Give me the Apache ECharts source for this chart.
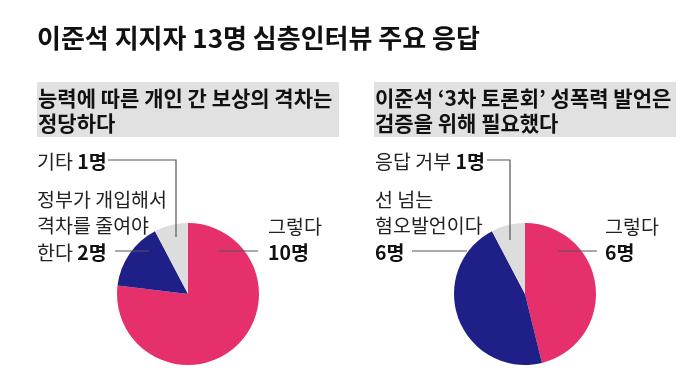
<!DOCTYPE html>
<html>
<head>
<meta charset="utf-8">
<script src="https://cdn.jsdelivr.net/npm/echarts@6/dist/echarts.min.js"></script>
<style>
html,body{margin:0;padding:0;background:#fff;}
#c{width:700px;height:391px;}
</style>
</head>
<body>
<div id="c"></div>
<script>
const title = '이준석 지지자 13명 심층인터뷰 주요 응답';
const question1 = ['능력에 따른 개인 간 보상의 격차는', '정당하다'];
const question2 = ['이준석 ‘3차 토론회’ 성폭력 발언은', '검증을 위해 필요했다'];
const categories1 = ['그렇다', '정부가 개입해서 격차를 줄여야 한다', '기타'];
const values1 = [10, 2, 1];
const categories2 = ['그렇다', '선 넘는 혐오발언이다', '응답 거부'];
const values2 = [6, 6, 1];
const sliceColors = ['#E5306B', '#1E2087', '#DDDDDD'];

const FONT = '"Noto Sans CJK KR", "Noto Sans", sans-serif';
const chart = echarts.init(document.getElementById('c'));

const R = 71;
const C1 = [188, 294];
const C2 = [525, 294];

function pieSeries(cats, vals, center) {
  return {
    type: 'pie',
    center: center,
    radius: R,
    startAngle: 90,
    clockwise: true,
    silent: true,
    animation: false,
    label: { show: false },
    labelLine: { show: false },
    itemStyle: { borderWidth: 0 },
    data: cats.map((c, i) => ({ name: c, value: vals[i], itemStyle: { color: sliceColors[i] } }))
  };
}

const FS = 19.5;
const rich = {
  r: { fontFamily: FONT, fontSize: FS, fontWeight: 400, fill: '#222', color: '#222' },
  b: { fontFamily: FONT, fontSize: FS, fontWeight: 700, fill: '#111', color: '#111' }
};

function txt(x, y, text, align) {
  return {
    type: 'text', z: 100,
    style: { x: x, y: y, text: text, align: align || 'left', verticalAlign: 'middle', rich: rich, font: '400 ' + FS + 'px ' + FONT, fill: '#222' }
  };
}
function line(points) {
  return {
    type: 'polyline', z: 100,
    shape: { points: points },
    style: { stroke: '#555', lineWidth: 1.2, fill: null }
  };
}
function header(x, lines) {
  return [
    { type: 'rect', z: 1, shape: { x: x, y: 82, width: 302, height: 55 }, style: { fill: '#E1E1E1' } },
    { type: 'text', z: 2, style: { x: x + 1, y: 98, text: lines[0], verticalAlign: 'middle', font: '700 21px ' + FONT, fill: '#111' } },
    { type: 'text', z: 2, style: { x: x + 1, y: 123, text: lines[1], verticalAlign: 'middle', font: '700 21px ' + FONT, fill: '#111' } }
  ];
}

const graphics = [
  { type: 'text', style: { x: 37, y: 38, text: title, verticalAlign: 'middle', font: '700 26px ' + FONT, fill: '#111' } },
  ...header(37, question1),
  ...header(374, question2),
  // left pie annotations
  txt(37, 162, '{r|기타 }{b|' + values1[2] + '명}'),
  line([[108, 160], [176, 160], [176, 237]]),
  txt(37, 200, '{r|정부가 개입해서}'),
  txt(37, 226, '{r|격차를 줄여야}'),
  txt(37, 253, '{r|한다 }{b|' + values1[1] + '명}'),
  line([[115, 251], [149, 251]]),
  txt(268, 227, '{r|그렇다}'),
  txt(268, 253, '{b|' + values1[0] + '명}'),
  line([[219, 251], [258, 251]]),
  // right pie annotations
  txt(375, 162, '{r|응답 거부 }{b|' + values2[2] + '명}'),
  line([[487, 160], [510, 160], [510, 240]]),
  txt(375, 200, '{r|선 넘는}'),
  txt(375, 226, '{r|혐오발언이다}'),
  txt(375, 253, '{b|' + values2[1] + '명}'),
  line([[412, 251], [467, 251]]),
  txt(605, 227, '{r|그렇다}'),
  txt(605, 253, '{b|' + values2[0] + '명}'),
  line([[558, 251], [597, 251]])
];

chart.setOption({
  animation: false,
  backgroundColor: '#fff',
  series: [pieSeries(categories1, values1, C1), pieSeries(categories2, values2, C2)],
  graphic: graphics
});
</script>
</body>
</html>
